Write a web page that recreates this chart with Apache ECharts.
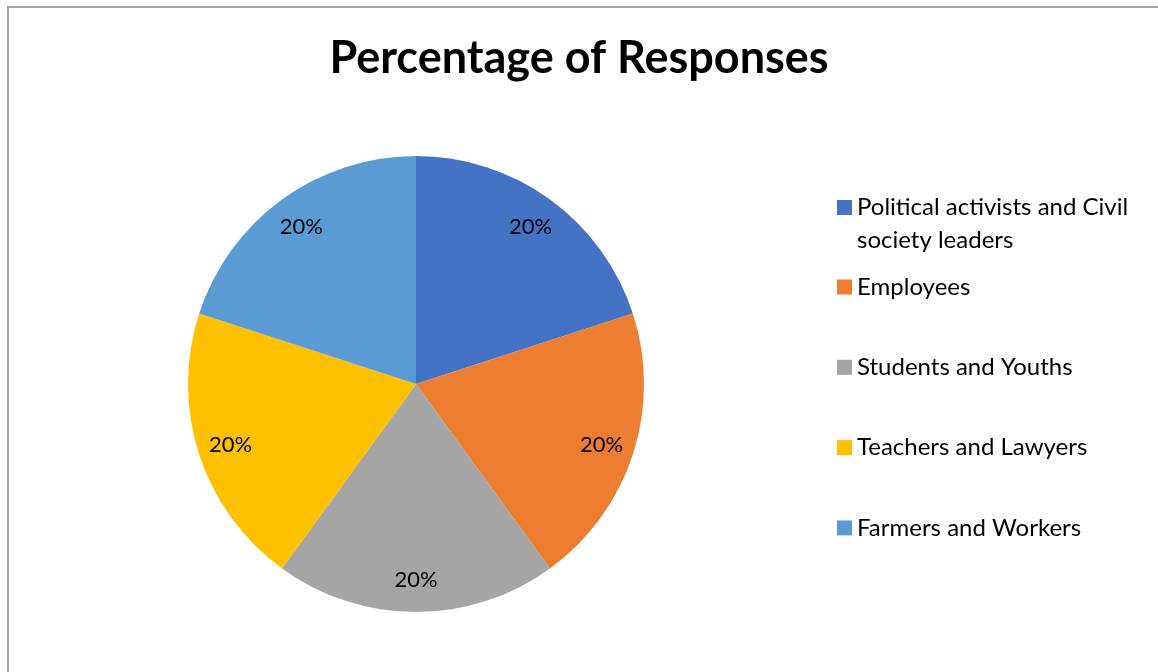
<!DOCTYPE html>
<html>
<head>
<meta charset="utf-8">
<title>Percentage of Responses</title>
<script src="https://cdn.jsdelivr.net/npm/echarts@6/dist/echarts.min.js"></script>
<style>
  html, body { margin: 0; padding: 0; background: #ffffff; }
  #chart { width: 1158px; height: 672px; }
</style>
</head>
<body>
<div id="chart"></div>
<script>
// Respondent groups and their share of responses (%)
const categories = [
  'Political activists and Civil society leaders',
  'Employees',
  'Students and Youths',
  'Teachers and Lawyers',
  'Farmers and Workers'
];
const shares = [20, 20, 20, 20, 20];
const colors = ['#4472C4', '#ED7D31', '#A5A5A5', '#FFC000', '#5B9BD5'];

const chartTitle = 'Percentage of Responses';
const FONT = 'Lato, "Noto Sans", sans-serif';
const LEGEND_LINE = 33;
const MARK = 15;

const pieData = categories.map((name, i) => ({
  name,
  value: shares[i],
  itemStyle: { color: colors[i] }
}));

const chart = echarts.init(document.getElementById('chart'), null, { renderer: 'canvas' });

const legendText = {
  fontFamily: FONT,
  fontSize: 24,
  color: '#000000',
  lineHeight: LEGEND_LINE
};

// Marker for the wrapped entry: square at the top of a taller box, so it lines up
// with the first line of the two-line label (the trailing segment only sets the box height).
const tallBox = MARK + LEGEND_LINE;
const topSquareIcon = 'path://M0,0H' + MARK + 'V' + MARK + 'H0Z M0,' + tallBox + 'L' + MARK + ',' + tallBox;

chart.setOption({
  backgroundColor: '#ffffff',
  animation: false,
  title: {
    text: chartTitle,
    left: 'center',
    top: 36,
    padding: [0, 0, 0, 14],
    textStyle: {
      fontFamily: FONT,
      fontWeight: 'bold',
      fontSize: 45,
      color: '#000000'
    }
  },
  legend: [
    {
      data: [categories[0]],
      orient: 'vertical',
      left: 837,
      top: 207.5 - LEGEND_LINE / 2,
      padding: 0,
      itemWidth: MARK,
      itemHeight: tallBox,
      icon: topSquareIcon,
      selectedMode: false,
      itemStyle: { borderWidth: 0 },
      textStyle: Object.assign({ width: 300, overflow: 'break' }, legendText)
    },
    {
      data: categories.slice(1),
      orient: 'vertical',
      left: 837,
      top: 287 - LEGEND_LINE / 2,
      padding: 0,
      itemGap: 80.3 - LEGEND_LINE,
      itemWidth: MARK,
      itemHeight: MARK,
      icon: 'rect',
      selectedMode: false,
      itemStyle: { borderWidth: 0 },
      textStyle: legendText
    }
  ],
  graphic: [{
    type: 'rect',
    silent: true,
    shape: { x: 8, y: 7, width: 1200, height: 700 },
    style: { fill: 'none', stroke: '#a3a3a3', lineWidth: 2 }
  }],
  series: [
    {
      name: chartTitle,
      type: 'pie',
      center: [416, 384],
      radius: [0, 228],
      startAngle: 90,
      clockwise: true,
      silent: true,
      itemStyle: { borderWidth: 0 },
      label: { show: false },
      labelLine: { show: false },
      data: pieData
    },
    {
      // transparent ring that carries the percentage labels
      name: 'labels',
      type: 'pie',
      center: [416, 384],
      radius: [156, 228],
      startAngle: 90,
      clockwise: true,
      silent: true,
      itemStyle: { color: 'transparent', borderWidth: 0 },
      label: {
        show: true,
        position: 'inside',
        offset: [0, 1],
        formatter: (p) => p.value + '%',
        fontFamily: FONT,
        fontSize: 22,
        color: '#000000'
      },
      labelLine: { show: false },
      data: categories.map((name, i) => ({ name, value: shares[i] }))
    }
  ]
});
</script>
</body>
</html>
